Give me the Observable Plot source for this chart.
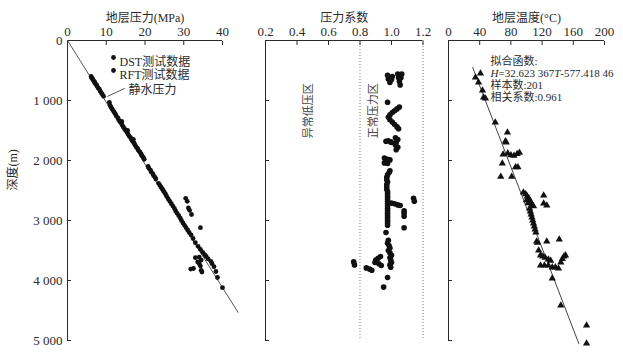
<!DOCTYPE html>
<html><head><meta charset="utf-8">
<script src="https://cdn.jsdelivr.net/npm/d3@7"></script>
<script src="https://cdn.jsdelivr.net/npm/@observablehq/plot@0.6"></script>
<style>
body{margin:0;background:#fff}
#chart{position:relative;width:623px;height:353px;background:#fff}
#chart svg{position:absolute;top:0;overflow:visible}
</style></head><body><div id="chart"></div>
<script>
// ---- tick values / labels ----
const depthTicks = [0, 1000, 2000, 3000, 4000, 5000];
const depthTickLabels = ["0", "1 000", "2 000", "3 000", "4 000", "5 000"];
const pressureTicks = [0, 10, 20, 30, 40];
const coefTicks = [0.2, 0.4, 0.6, 0.8, 1.0, 1.2];
const coefTickLabels = ["0.2", "0.4", "0.6", "0.8", "1.0", "1.2"];
const tempTicks = [0, 40, 80, 120, 160, 200];

// ---- texts ----
const depthLabel = "深度(m)";
const titles = ["地层压力(MPa)", "压力系数", "地层温度(°C)"];
const legendLabels = ["DST测试数据", "RFT测试数据"];
const hydroLabel = "静水压力";
const zoneLabels = [{c: 0.47, d: 1170, label: "异常低压区"}, {c: 0.885, d: 1170, label: "正常压力区"}];
const fitParts = [["H", true], ["=32.623 367", false], ["T", true], ["-577.418 46", false]];
const fitLines = ["拟合函数:", fitParts.map(p => p[0]).join(""), "样本数:201", "相关系数:0.961"];

// ---- panel 1: depth (m), pressure (MPa) ----
const pressurePoints = [
  [600,6.1],[620,6.2],[640,6.5],[660,6.6],[680,6.9],[700,7.0],[720,7.2],[740,7.5],[760,7.6],[790,7.9],
  [810,8.2],[840,8.4],[870,8.7],[900,9.0],[930,9.3],[1030,10.8],
  [1080,11.0],[1110,11.2],[1140,11.5],[1170,11.8],[1200,12.1],[1230,12.4],[1260,12.6],[1290,13.0],
  [1320,13.2],[1350,13.5],[1350,14.0],[1380,13.9],[1410,14.1],[1440,14.4],[1470,14.7],[1500,15.0],[1500,15.5],
  [1530,15.4],[1560,15.6],[1590,15.9],[1620,16.3],[1650,16.5],[1650,17.0],[1680,16.8],[1710,17.2],
  [1740,17.4],[1770,17.7],[1800,18.1],[1830,18.3],[1860,18.7],[1890,19.0],[1920,19.2],[1950,19.6],[1980,19.8],
  [2100,20.8],[2130,21.0],[2160,21.4],[2190,21.6],[2220,22.0],[2250,22.2],[2280,22.6],[2310,22.8],
  [2380,23.5],[2410,23.8],[2440,24.1],[2470,24.4],[2500,24.7],[2530,25.0],[2560,25.3],[2600,25.6],
  [2640,26.0],[2680,26.4],[2720,26.8],[2760,27.2],[2800,27.6],[2840,27.9],[2880,28.3],[2920,28.7],
  [2960,29.1],[3000,29.4],[3040,29.8],[3080,30.2],[3120,30.6],[3160,31.0],[3200,31.4],
  [2630,30.5],[2680,30.9],[2790,31.2],[2830,31.5],[2900,32.0],[3120,34.3],
  [3240,31.9],[3300,32.4],[3370,33.0],[3430,33.7],[3480,34.3],[3530,34.9],[3570,35.4],[3600,35.8],
  [3620,33.0],[3610,34.0],[3640,36.3],[3660,34.5],[3690,33.6],[3720,34.0],[3760,34.3],[3800,32.5],
  [3810,31.8],[3830,34.5],[3860,34.7],[3680,37.0],[3720,37.3],[3770,37.8],[3850,38.3],[3950,38.7],[4120,40.0]
];
const hydroLine = [[0, 0], [4530, 44]];
const hydroLeader = [[930, 10.4], [800, 14.7]];

// ---- panel 2: depth (m), pressure coefficient ----
const coefPoints = [
  [580,0.975],[640,0.98],[700,0.99],[650,1.0],[600,1.005],[560,1.04],[620,1.045],[680,1.05],[740,1.055],
  [620,1.06],[560,1.065],[1030,0.975],
  [1110,1.05],[1140,1.035],[1170,1.02],[1200,1.005],[1240,0.99],[1280,0.98],[1320,0.99],[1360,1.005],
  [1400,1.02],[1440,1.035],[1470,1.045],
  [1680,0.965],[1670,0.98],[1690,0.995],[1700,1.0],[1620,1.025],[1650,1.04],[1700,1.03],[1740,1.025],
  [1780,1.04],[1820,1.03],
  [1960,0.955],[1980,0.975],[1990,0.99],[2040,0.955],[2050,0.975],
  [2170,0.99],[2200,0.985],[2240,0.975],[2280,0.97],[2320,0.97],[2360,0.975],[2400,0.97],[2440,0.97],
  [2480,0.97],[2520,0.975],[2560,0.975],[2600,0.975],[2640,0.975],[2680,0.975],[2720,0.975],[2760,0.975],
  [2800,0.975],[2840,0.975],[2880,0.975],[2920,0.975],[2960,0.975],[3000,0.975],[3040,0.975],[3080,0.975],
  [3200,0.965],
  [2710,1.0],[2720,1.02],[2740,1.04],[2750,1.055],[2630,1.14],[2680,1.145],
  [2840,1.08],[2880,1.08],[2930,1.08],[3120,1.08],
  [3330,0.98],[3380,0.975],[3420,0.985],[3460,0.99],[3500,0.98],[3540,0.99],[3580,1.0],[3620,0.99],
  [3660,0.995],[3700,1.0],[3740,0.99],[3780,0.995],
  [3600,0.93],[3630,0.915],[3660,0.9],[3700,0.895],[3720,0.92],[3750,0.935],
  [3790,0.84],[3810,0.86],[3830,0.875],[3690,0.76],[3740,0.765],[3950,0.975],[4110,0.95]
];
const coefBounds = [0.8, 1.2];

// ---- panel 3: temperature (°C), depth (m) ----
const tempPoints = [
  [34.6,617],[41,550],[38.5,700],[43.6,833],[45,950],[47.4,967],[60,1367],[75.6,1533],[73,1680],[74,1700],
  [70,1900],[76,1880],[80,1910],[84,1920],[88,1890],[91,1870],[69,2050],[86,2110],[89,2110],[67,2270],[81,2270],
  [96,2533],[99,2560],[101,2600],[103,2630],[100,2660],[105,2680],[102,2710],[107,2730],[109,2760],
  [122,2583],[122,2717],[126,2750],[104,2800],[105,2850],[106,2900],[107,2950],[108,3000],[109,3050],
  [110,3100],[111,3150],[112,3200],[113,3350],[114,3370],[126,3350],[142,3317],[115.6,3500],
  [118,3580],[121,3600],[124,3620],[128,3650],[131,3670],[118,3750],[123,3750],[128,3750],[133,3780],
  [137,3780],[141,3800],[144,3700],[146,3640],[148,3600],[150,3580],[133,3967],[144,4417],[177,4750],[177,5050]
];
const fitLine = [[31, 450], [167, 5050]];

// ---- rendering ----
const chart = document.getElementById("chart");
const FONT = "'Liberation Serif', 'Noto Sans CJK SC', serif";
const INK = "#2a2a2a";

function panel({left, width, mL, mR, x, marks}) {
  const svg = Plot.plot({
    width, height: 353,
    marginLeft: mL, marginRight: mR, marginTop: 40, marginBottom: 13,
    x: {...x, label: null},
    y: {domain: [0, 5000], reverse: true, label: null},
    style: {fontFamily: FONT, fontSize: "13px", color: INK, background: "transparent", overflow: "visible"},
    marks
  });
  svg.style.left = left + "px";
  chart.append(svg);
  return svg;
}

function frameMarks(x0, xTicks, xLabels, showY) {
  return [
    Plot.ruleY([0], {stroke: INK}),
    Plot.ruleX([x0], {stroke: INK}),
    Plot.axisX(xTicks, {anchor: "top", tickSize: -4, tickPadding: 9, stroke: INK,
      tickFormat: (d, i) => xLabels[i], fontSize: 13}),
    Plot.axisY(depthTicks, {anchor: "left", tickSize: -4, tickPadding: 9, stroke: INK,
      tickFormat: (d, i) => showY ? depthTickLabels[i] : "", fontSize: 13})
  ];
}

function title(t) {
  return Plot.text([t], {frameAnchor: "top", dy: -27, fontSize: 12, fill: INK});
}

// Panel 1
panel({
  left: 0, width: 250, mL: 67, mR: 28,
  x: {domain: [0, 40]},
  marks: [
    ...frameMarks(0, pressureTicks, pressureTicks.map(String), true),
    title(titles[0]),
    Plot.text([depthLabel], {frameAnchor: "left", dx: -54, rotate: -90, fontSize: 12, fill: INK}),
    Plot.line(hydroLine, {x: d => d[1], y: d => d[0], stroke: "#555", strokeWidth: 1, clip: false}),
    Plot.line(hydroLeader, {x: d => d[1], y: d => d[0], stroke: "#555", strokeWidth: 1}),
    Plot.text([hydroLabel], {frameAnchor: "top-left", dx: 61, dy: 45, textAnchor: "start", fontSize: 12, fill: INK}),
    ...legendLabels.flatMap((lab, i) => [
      Plot.dot([lab], {frameAnchor: "top-left", dx: 46, dy: 17 + 13 * i, r: 2.4, fill: "#111", stroke: "none"}),
      Plot.text([lab], {frameAnchor: "top-left", dx: 52, dy: 17 + 13 * i, textAnchor: "start", fontSize: 12, fill: INK})
    ]),
    Plot.dot(pressurePoints, {x: d => d[1], y: d => d[0], r: 2.4, fill: "#111", stroke: "none"})
  ]
});

// Panel 2
panel({
  left: 250, width: 180, mL: 15, mR: 7.5,
  x: {domain: [0.2, 1.2]},
  marks: [
    Plot.ruleX(coefBounds, {stroke: "#777", strokeDasharray: "1,2", strokeWidth: 1}),
    ...frameMarks(0.2, coefTicks, coefTickLabels, false),
    title(titles[1]),
    Plot.text(zoneLabels, {x: "c", y: "d", text: "label", rotate: -90, fontSize: 11, fill: "#444"}),
    Plot.dot(coefPoints, {x: d => d[1], y: d => d[0], r: 2.8, fill: "#111", stroke: "none"})
  ]
});

// Panel 3
const svg3 = panel({
  left: 430, width: 193, mL: 18, mR: 19,
  x: {domain: [0, 200]},
  marks: [
    ...frameMarks(0, tempTicks, tempTicks.map(String), false),
    title(titles[2]),
    Plot.line(fitLine, {x: d => d[0], y: d => d[1], stroke: "#444", strokeWidth: 1, clip: false}),
    ...fitLines.map((t, i) => Plot.text([t], {frameAnchor: "top-left", dx: 42, dy: 17 + 12 * i,
      textAnchor: "start", fontSize: 11, lineHeight: 1, fill: INK})),
    Plot.dot(tempPoints, {x: d => d[0], y: d => d[1], symbol: "triangle", r: 2.7, fill: "#111", stroke: "none"})
  ]
});

// italic H and T in the fit equation
d3.select(svg3).selectAll("text").filter(function () { return this.textContent === fitLines[1]; })
  .each(function () {
    const t = d3.select(this);
    t.text(null);
    fitParts.forEach(([s, it]) => t.append("tspan").attr("font-style", it ? "italic" : null).text(s));
  });
</script></body></html>
